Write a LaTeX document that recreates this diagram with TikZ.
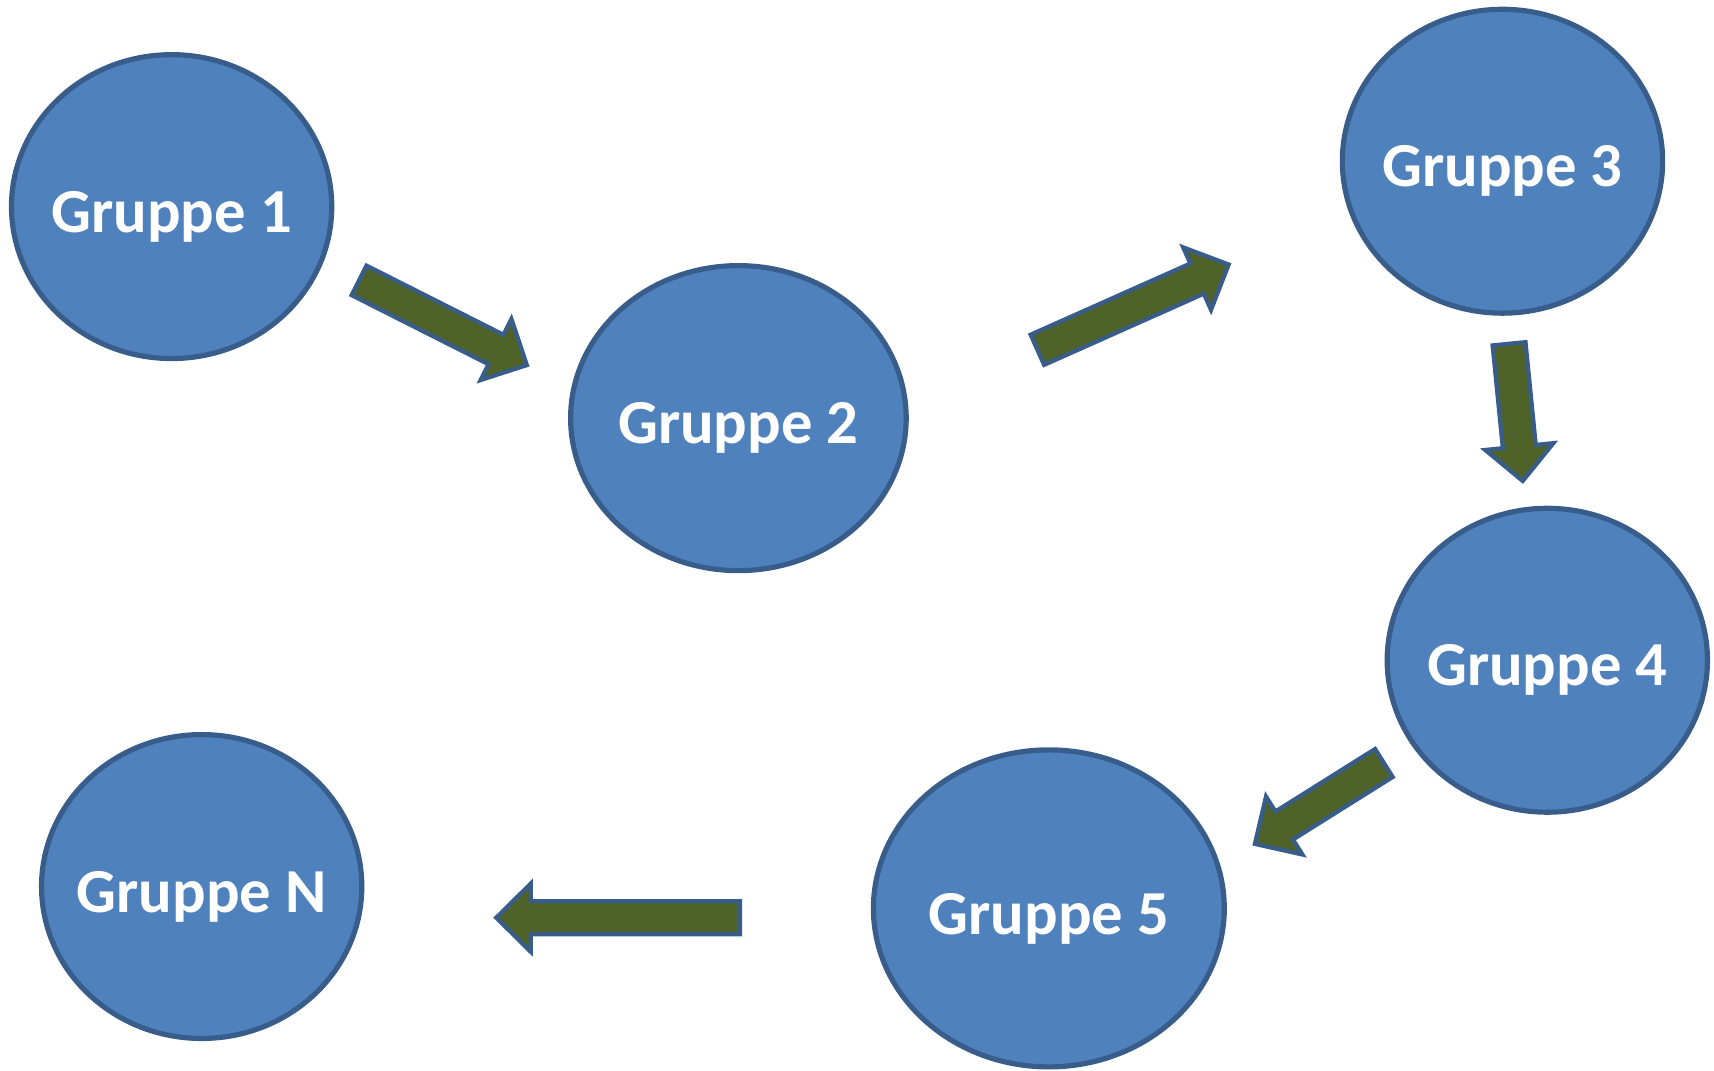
\documentclass[tikz,border=0pt]{standalone}
\usepackage{fontspec}
\setmainfont{Carlito}
\usetikzlibrary{calc,shapes.geometric}
\definecolor{grpblue}{HTML}{4F81BD}
\definecolor{grpline}{HTML}{385D8A}
\definecolor{arrgreen}{HTML}{4F6228}
\newcommand{\grpArrow}[2]{%
\filldraw[arr] let \p1=($(#2)-(#1)$), \n1={atan2(\y1,\x1)} in
 ($(#1)+(\n1+90:4.3pt)$) -- ($(#2)+(\n1+180:9pt)+(\n1+90:4.3pt)$) -- ($(#2)+(\n1+180:9pt)+(\n1+90:8.9pt)$) -- (#2)
 -- ($(#2)+(\n1+180:9pt)+(\n1-90:8.9pt)$) -- ($(#2)+(\n1+180:9pt)+(\n1-90:4.3pt)$) -- ($(#1)+(\n1-90:4.3pt)$) -- cycle;}

\begin{document}
\begin{tikzpicture}[
 grp/.style={ellipse, draw=grpline, fill=grpblue, line width=1.35pt, inner sep=0pt, minimum width=2.93cm, minimum height=2.78cm},
 txt/.style={text=white, font=\bfseries\fontsize{16.3}{18}\selectfont, text height=13.4pt, text depth=0pt, inner sep=0pt},
 arr/.style={draw=grpline, fill=arrgreen, line width=1.1pt, line join=miter}]
\useasboundingbox (0,0) rectangle (15.68,-9.79);
\node[grp, label={[txt]center:Gruppe 1}] (G1) at (1.57,-1.89) {};
\node[grp, minimum width=3.07cm, minimum height=2.79cm, label={[txt]center:Gruppe 2}] (G2) at (6.755,-3.825) {};
\node[grp, label={[txt]center:Gruppe 3}] (G3) at (13.745,-1.475) {};
\node[grp, label={[txt]center:Gruppe 4}] (G4) at (14.155,-6.04) {};
\node[grp, minimum width=3.21cm, minimum height=2.90cm, label={[txt]center:Gruppe 5}] (G5) at (9.595,-8.31) {};
\node[grp, label={[txt]center:Gruppe N}] (GN) at (1.845,-8.11) {};
% arrow ends
\coordinate (s1) at (3.285,-2.565); \coordinate (e1) at (4.82,-3.34);
\coordinate (s2) at (9.49,-3.20);   \coordinate (e2) at (11.24,-2.42);
\coordinate (s3) at (13.805,-3.145); \coordinate (e3) at (13.93,-4.40);
\coordinate (s4) at (12.66,-6.98);  \coordinate (e4) at (11.48,-7.72);
\coordinate (s5) at (6.77,-8.395);  \coordinate (e5) at (4.54,-8.395);
\foreach \i in {1,...,5} \grpArrow{s\i}{e\i};
\end{tikzpicture}
\end{document}
